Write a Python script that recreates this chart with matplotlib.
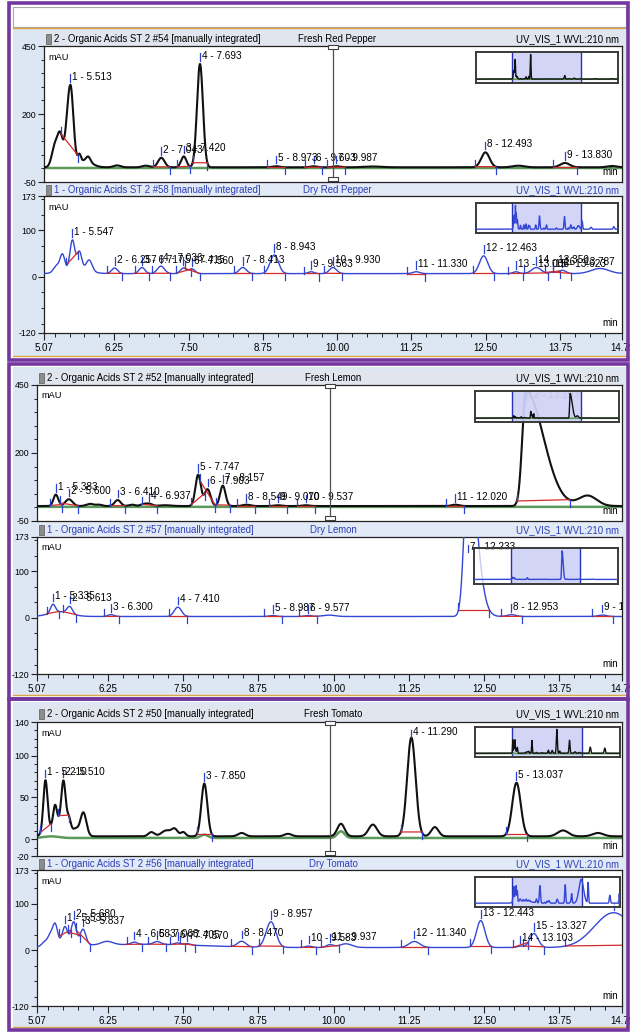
import numpy as np
import matplotlib
matplotlib.use("Agg")
import matplotlib.pyplot as plt
from matplotlib.patches import Rectangle
from matplotlib.ticker import FixedLocator
from matplotlib import font_manager as fm

# ---------------------------------------------------------------------------
# Shared time window (min)
# ---------------------------------------------------------------------------
T_START, T_END = 5.07, 14.79
OVERVIEW_END = 20.0
cursor_rt = 9.93
x_ticks = [5.07, 6.25, 7.50, 8.75, 10.00, 11.25, 12.50, 13.75, 14.79]

# ---------------------------------------------------------------------------
# Red pepper
# ---------------------------------------------------------------------------
pep_fresh_rt = [5.25, 5.34, 5.513, 5.665, 5.75, 5.815, 6.30, 6.78, 7.043, 7.420, 7.693,
                8.973, 9.603, 9.987, 10.60, 12.493, 13.05, 13.830, 14.62, 16.80, 19.20]
pep_fresh_h = [75, 110, 300, 28, 25, 18, 7, 6, 35, 40, 380,
               4, 4, 4, 3, 55, 6, 16, 5, 8, 6]
pep_fresh_w = [0.05, 0.045, 0.062, 0.025, 0.12, 0.035, 0.06, 0.06, 0.055, 0.045, 0.05,
               0.06, 0.06, 0.06, 0.15, 0.07, 0.10, 0.08, 0.08, 0.10, 0.10]
pep_fresh_wr = [0.05, 0.045, 0.05, 0.025, 0.12, 0.035, 0.06, 0.06, 0.055, 0.045, 0.05,
                0.06, 0.06, 0.06, 0.15, 0.07, 0.10, 0.08, 0.08, 0.10, 0.10]
pep_fresh_num = [0, 0, 1, 0, 0, 0, 0, 0, 2, 3, 4,
                 5, 6, 7, 0, 8, 0, 9, 0, 0, 0]
pep_fresh_base = 4
pep_blank_level = 1.5

pep_dry_rt = [5.28, 5.38, 5.547, 5.665, 5.83, 5.60, 6.257, 6.717, 7.036, 7.415, 7.560,
              8.413, 8.943, 9.563, 9.930, 11.330, 12.463, 13.006, 13.350, 13.623, 13.787,
              14.42, 14.95, 16.20, 19.40]
pep_dry_h = [14, 35, 62, 38, 24, 10, 12, 13, 16, 12, 10,
             13, 40, 4, 13, 4, 38, 4, 13, 3, 7,
             11, 25, 6, 8]
pep_dry_w = [0.05, 0.04, 0.04, 0.04, 0.05, 0.20, 0.05, 0.05, 0.06, 0.05, 0.05,
             0.06, 0.07, 0.05, 0.06, 0.06, 0.07, 0.05, 0.08, 0.05, 0.06,
             0.15, 0.06, 0.10, 0.08]
pep_dry_num = [0, 0, 1, 0, 0, 0, 2, 3, 4, 5, 6,
               7, 8, 9, 10, 11, 12, 13, 14, 15, 16,
               0, 0, 0, 0]
pep_dry_base = 7

# ---------------------------------------------------------------------------
# Lemon
# ---------------------------------------------------------------------------
lem_fresh_rt = [5.383, 5.600, 5.95, 6.10, 6.410, 6.65, 6.84, 6.937, 7.20, 7.747, 7.903,
                8.157, 8.549, 9.070, 9.537, 12.020, 13.193, 14.22, 15.60]
lem_fresh_h = [42, 25, 8, 5, 22, 5, 7, 8, 3, 115, 62,
               75, 5, 3, 3, 5, 422, 38, 3]
lem_fresh_w = [0.04, 0.06, 0.06, 0.05, 0.05, 0.05, 0.05, 0.05, 0.10, 0.045, 0.05,
               0.045, 0.06, 0.06, 0.06, 0.06, 0.06, 0.15, 0.10]
lem_fresh_wr = [0.04, 0.06, 0.06, 0.05, 0.05, 0.05, 0.05, 0.05, 0.10, 0.045, 0.05,
                0.045, 0.06, 0.06, 0.06, 0.06, 0.29, 0.15, 0.10]
lem_fresh_num = [1, 2, 0, 0, 3, 0, 0, 4, 0, 5, 6,
                 7, 8, 9, 10, 11, 12, 0, 0]
lem_fresh_base = 5
lem_blank_level = 2

lem_dry_rt = [5.335, 5.45, 5.613, 6.300, 7.410, 8.987, 9.577, 9.92, 12.233, 12.953, 14.463, 16.50]
lem_dry_h = [18, 10, 15, 4, 20, 2, 2, 3, 330, 4, 3, 3]
lem_dry_w = [0.04, 0.18, 0.045, 0.05, 0.06, 0.06, 0.06, 0.10, 0.064, 0.07, 0.07, 0.10]
lem_dry_wr = [0.04, 0.18, 0.045, 0.05, 0.06, 0.06, 0.06, 0.10, 0.142, 0.07, 0.07, 0.10]
lem_dry_num = [1, 0, 2, 3, 4, 5, 6, 0, 7, 8, 9, 0]
lem_dry_base = 3

# ---------------------------------------------------------------------------
# Tomato
# ---------------------------------------------------------------------------
tom_fresh_rt = [5.210, 5.37, 5.45, 5.510, 5.60, 5.72, 5.84, 6.97, 7.22, 7.36, 7.50, 7.850,
                8.47, 9.24, 10.12, 10.65, 11.290, 11.68, 13.037, 13.81, 14.39, 15.90, 17.90]
tom_fresh_h = [62, 22, 18, 50, 12, 5, 28, 5, 7, 8, 5, 63,
               4, 3, 15, 14, 118, 11, 64, 7, 4, 30, 25]
tom_fresh_w = [0.035, 0.03, 0.15, 0.035, 0.03, 0.04, 0.05, 0.05, 0.08, 0.05, 0.04, 0.05,
               0.06, 0.06, 0.06, 0.07, 0.07, 0.06, 0.07, 0.09, 0.09, 0.08, 0.08]
tom_fresh_num = [1, 0, 0, 2, 0, 0, 0, 0, 0, 0, 0, 3,
                 0, 0, 0, 0, 4, 0, 5, 0, 0, 0, 0]
tom_fresh_base = 3.5
tom_blank_rt = [5.30, 7.85, 10.12]
tom_blank_h = [2, 4, 8]
tom_blank_w = [0.12, 0.06, 0.06]
tom_blank_level = 1.5

tom_dry_rt = [5.20, 5.29, 5.37, 5.533, 5.680, 5.837, 5.60, 6.23, 6.683, 6.90, 7.068, 7.405,
              7.570, 8.470, 8.957, 9.583, 9.937, 10.20, 11.340, 12.443, 13.103, 13.327,
              14.650, 15.60, 18.60, 19.90]
tom_dry_h = [10, 20, 42, 30, 40, 30, 14, 8, 5, 7, 6, 4,
             3, 12, 55, 3, 6, 8, 13, 58, 3, 30,
             75, 65, 25, 30]
tom_dry_w = [0.05, 0.04, 0.04, 0.04, 0.04, 0.045, 0.18, 0.10, 0.05, 0.90, 0.06, 0.05,
             0.05, 0.07, 0.08, 0.05, 0.06, 0.10, 0.09, 0.07, 0.05, 0.07,
             0.32, 0.06, 0.08, 0.03]
tom_dry_num = [0, 0, 0, 1, 2, 3, 0, 0, 4, 0, 5, 6,
               7, 8, 9, 10, 11, 0, 12, 13, 14, 15,
               16, 0, 0, 0]
tom_dry_base = 6

# ---------------------------------------------------------------------------
# Styling
# ---------------------------------------------------------------------------
W, H = 630, 1032
PURPLE = "#74379f"
LIGHT = "#dde6f3"
HEAD_FRESH = "#e1e5ee"
HEAD_DRY = "#e2eaf7"
GOLD = "#d9a441"
BLACK = "#111111"
BLUE = "#3447d4"
DRY_TEXT = "#2c3fb8"
GREEN = "#5c9a5c"
RED = "#d42a2a"
TICK = "#2b45d0"
SHADE = "#c3c7f2"
NAVY = "#2633b8"


def find_family(candidates, fallback):
    for name in candidates:
        try:
            fm.findfont(fm.FontProperties(family=name), fallback_to_default=False)
            return name, True
        except ValueError:
            continue
    return fallback, False


FAM, NARROW = find_family(["Liberation Sans Narrow", "Arial Narrow"], "Liberation Sans")
if NARROW:
    FS_HEAD, FS_LABEL, FS_YTICK, FS_XTICK, FS_UNIT = 8.0, 8.2, 6.9, 8.0, 7.4
else:
    FS_HEAD, FS_LABEL, FS_YTICK, FS_XTICK, FS_UNIT = 6.9, 7.2, 6.3, 7.0, 6.6
plt.rcParams["font.family"] = [FAM, "DejaVu Sans"]

fig = plt.figure(figsize=(W / 100, H / 100), dpi=100)
fig.patch.set_facecolor("white")


def fig_rect(x0, y0, x1, y1, **kw):
    r = Rectangle((x0 / W, 1 - y1 / H), (x1 - x0) / W, (y1 - y0) / H,
                  transform=fig.transFigure, **kw)
    fig.patches.append(r)
    return r


def fig_hline(y, x0, x1, color, lw, z=1):
    fig.add_artist(plt.Line2D([x0 / W, x1 / W], [1 - y / H, 1 - y / H],
                              transform=fig.transFigure, color=color, lw=lw, zorder=z))


def fig_text(x, y, s, **kw):
    return fig.text(x / W, 1 - y / H, s, **kw)


def px_axes(box, **kw):
    x0, y0, x1, y1 = box
    return fig.add_axes([x0 / W, 1 - y1 / H, (x1 - x0) / W, (y1 - y0) / H], **kw)


def peaks_signal(t, rt, h, w, wr, base):
    t = np.asarray(t, dtype=float)
    y = np.full(t.shape, float(base))
    for r, a, sl, sr in zip(rt, h, w, wr):
        s = np.where(t < r, sl, sr)
        y = y + a * np.exp(-0.5 * ((t - r) / s) ** 2)
    return y


def style_axes(ax, ylim, yticks, yminor, bottom_axis):
    ax.set_xlim(T_START, T_END)
    ax.set_ylim(*ylim)
    ax.set_facecolor("white")
    for sp in ax.spines.values():
        sp.set_color("#222222")
        sp.set_linewidth(0.9)
    ax.set_yticks(yticks)
    ax.set_yticklabels([f"{v:g}" for v in yticks])
    ax.yaxis.set_minor_locator(FixedLocator(yminor))
    ax.tick_params(axis="y", which="major", length=4, width=0.8, labelsize=FS_YTICK, pad=1.5,
                   colors="#222222", labelcolor="black")
    ax.tick_params(axis="y", which="minor", length=2.5, width=0.7, colors="#222222")
    ax.set_xticks(x_ticks)
    ax.xaxis.set_minor_locator(FixedLocator(
        [v for v in np.arange(5.25, 14.76, 0.25) if min(abs(v - m) for m in x_ticks) > 0.05]))
    if bottom_axis:
        ax.set_xticklabels([f"{v:.2f}" for v in x_ticks])
        ax.tick_params(axis="x", which="major", length=5, width=0.8, labelsize=FS_XTICK, pad=2.5,
                       colors="#222222", labelcolor="black")
        ax.tick_params(axis="x", which="minor", length=3, width=0.7, colors="#222222")
    else:
        ax.tick_params(axis="x", which="both", bottom=False, labelbottom=False)


def draw_chromatogram(ax, box, ylim, rt, h, w, wr, num, base, color, lw, blank=None):
    px_w = box[2] - box[0]
    px_h = box[3] - box[1]
    upp = (ylim[1] - ylim[0]) / px_h
    mpp = (T_END - T_START) / px_w
    t = np.linspace(T_START, T_END, 4000)

    def sig(tt):
        return peaks_signal(tt, rt, h, w, wr, base)

    if blank is not None:
        ax.plot(t, peaks_signal(t, *blank), color=GREEN, lw=1.8, zorder=2)
    ax.plot(t, sig(t), color=color, lw=lw, zorder=3, solid_joinstyle="round")

    for r, a, sl, sr, n in zip(rt, h, w, wr, num):
        if not n:
            continue
        t0, t1 = r - 2.5 * sl, r + 2.5 * sr
        y0, y1 = float(sig(t0)), float(sig(t1))
        ax.plot([t0, t1], [y0, y1], color=RED, lw=0.9, zorder=4)
        ax.plot([t0, t0], [y0, y0 + 7 * upp], color=TICK, lw=0.9, zorder=4)
        ax.plot([t1, t1], [y1, y1 - 7 * upp], color=TICK, lw=0.9, zorder=4)
        lab_y = min(float(sig(r)) + 8 * upp, ylim[1] - 10 * upp)
        ax.plot([r, r], [lab_y - 5 * upp, lab_y + 2.5 * upp], color=TICK, lw=0.9, zorder=5)
        ax.text(r + 2 * mpp, lab_y, f"{n} - {r:.3f}", fontsize=FS_LABEL, va="center", ha="left",
                color="black", zorder=6, clip_on=True)


def draw_overview(box, rt, h, w, wr, base, color, blank=None):
    ax = px_axes(box, zorder=5)
    ax.patch.set_facecolor("white")
    ax.patch.set_alpha(0.72)
    t = np.linspace(0, OVERVIEW_END, 2000)
    y = peaks_signal(t, rt, h, w, wr, base)
    ax.axvspan(T_START, T_END, color=SHADE, alpha=0.75, lw=0, zorder=1)
    for xv in (T_START, T_END):
        ax.axvline(xv, color=NAVY, lw=1.0, zorder=2)
    if blank is not None:
        ax.plot(t, peaks_signal(t, *blank), color=GREEN, lw=1.2, zorder=3)
    ax.plot(t, y, color=color, lw=1.0, zorder=4)
    lo, hi = float(y.min()), float(y.max())
    ax.set_xlim(0, OVERVIEW_END)
    ax.set_ylim(lo - 0.16 * (hi - lo), hi + 0.1 * (hi - lo))
    ax.set_xticks([])
    ax.set_yticks([])
    for sp in ax.spines.values():
        sp.set_color("#3a3a3a")
        sp.set_linewidth(1.4)


def draw_cursor(ax, ylim, px_h):
    upp = (ylim[1] - ylim[0]) / px_h
    ax.plot([cursor_rt, cursor_rt], [ylim[0], ylim[1]], color="#505050", lw=0.9, zorder=7)
    handle = [(-1.5, -0.5), (1.5, -0.5), (1.5, 0.5), (-1.5, 0.5), (-1.5, -0.5)]
    for yv in (ylim[1] - 1 * upp, ylim[0] + 3 * upp):
        ax.plot([cursor_rt], [yv], marker=handle, ms=7, mfc="white", mec="#404040",
                mew=0.8, zorder=8, clip_on=False)


# ---------------------------------------------------------------------------
# Panel layout (pixels) and content
# ---------------------------------------------------------------------------
panels = [
    dict(purple=(9, 3, 628, 360), light=(13, 28, 626, 356),
         fresh_head=(44, 31, 622, 46), fresh=(44, 46, 622, 182),
         dry_head=(44, 183, 622, 196), dry=(44, 196, 622, 333),
         fresh_inset=(476, 52, 618, 83), dry_inset=(476, 203, 618, 233),
         fresh_run="#54", dry_run="#58", fresh_name="Fresh Red Pepper", dry_name="Dry Red Pepper",
         fresh_ylim=(-50, 450), fresh_ticks=[-50, 200, 450],
         fresh_minor=list(range(0, 450, 50)),
         fresh_data=(pep_fresh_rt, pep_fresh_h, pep_fresh_w, pep_fresh_wr, pep_fresh_num, pep_fresh_base),
         blank=([], [], [], [], pep_blank_level),
         dry_data=(pep_dry_rt, pep_dry_h, pep_dry_w, pep_dry_w, pep_dry_num, pep_dry_base)),
    dict(purple=(9, 364, 628, 699), light=(13, 367, 626, 695),
         fresh_head=(37, 370, 622, 385), fresh=(37, 385, 622, 521),
         dry_head=(37, 522, 622, 537), dry=(37, 537, 622, 674),
         fresh_inset=(475, 391, 619, 422), dry_inset=(474, 548, 618, 584),
         fresh_run="#52", dry_run="#57", fresh_name="Fresh Lemon", dry_name="Dry Lemon",
         fresh_ylim=(-50, 450), fresh_ticks=[-50, 200, 450],
         fresh_minor=list(range(0, 450, 50)),
         fresh_data=(lem_fresh_rt, lem_fresh_h, lem_fresh_w, lem_fresh_wr, lem_fresh_num, lem_fresh_base),
         blank=([], [], [], [], lem_blank_level),
         dry_data=(lem_dry_rt, lem_dry_h, lem_dry_w, lem_dry_wr, lem_dry_num, lem_dry_base)),
    dict(purple=(9, 699, 628, 1030), light=(13, 702, 626, 1027),
         fresh_head=(37, 705, 622, 722), fresh=(37, 722, 622, 856),
         dry_head=(37, 857, 622, 870), dry=(37, 870, 622, 1006),
         fresh_inset=(475, 727, 620, 757), dry_inset=(475, 877, 620, 907),
         fresh_run="#50", dry_run="#56", fresh_name="Fresh Tomato", dry_name="Dry Tomato",
         fresh_ylim=(-20, 140), fresh_ticks=[-20, 0, 50, 100, 140],
         fresh_minor=list(range(-10, 140, 10)),
         fresh_data=(tom_fresh_rt, tom_fresh_h, tom_fresh_w, tom_fresh_w, tom_fresh_num, tom_fresh_base),
         blank=(tom_blank_rt, tom_blank_h, tom_blank_w, tom_blank_w, tom_blank_level),
         dry_data=(tom_dry_rt, tom_dry_h, tom_dry_w, tom_dry_w, tom_dry_num, tom_dry_base)),
]

DRY_YLIM = (-120, 173)
DRY_TICKS = [-120, 0, 100, 173]
DRY_MINOR = [v for v in np.arange(-100, 173, 100 / 3) if min(abs(v - m) for m in DRY_TICKS) > 5]

# window frame above the first panel
fig_rect(13, 7, 626, 27, facecolor="white", edgecolor="#a8a8a8", lw=0.8, zorder=-9)
fig_hline(28, 13, 626, GOLD, 1.0, z=-5)

for p in panels:
    # backgrounds
    fig_rect(*p["light"], facecolor=LIGHT, edgecolor="none", zorder=-10)
    fig_hline(p["light"][3], 13, 626, GOLD, 1.0, z=-5)
    fig_rect(*p["fresh_head"], facecolor=HEAD_FRESH, edgecolor="none", zorder=-8)
    fig_rect(*p["dry_head"], facecolor=HEAD_DRY, edgecolor="none", zorder=-8)

    # header strips
    for head, run, name, tcol, chan in (
            (p["fresh_head"], p["fresh_run"], p["fresh_name"], "black", "2"),
            (p["dry_head"], p["dry_run"], p["dry_name"], DRY_TEXT, "1")):
        x0, y0, x1, y1 = head
        yc = (y0 + y1) / 2 + 0.5
        fig_rect(x0 + 2, yc - 5, x0 + 7, yc + 5, facecolor="#8c8c8c", edgecolor="#5a5a5a",
                 lw=0.5, zorder=2)
        fig_text(x0 + 10, yc, f"{chan} - Organic Acids ST 2 {run} [manually integrated]",
                 fontsize=FS_HEAD, color=tcol, va="center", ha="left")
        fig_text((x0 + x1) / 2 + 4, yc, name, fontsize=FS_HEAD, color=tcol, va="center", ha="center")
        fig_text(x1 - 3, yc, "UV_VIS_1 WVL:210 nm", fontsize=FS_HEAD, color=tcol,
                 va="center", ha="right")

    # fresh trace
    ax_f = px_axes(p["fresh"])
    style_axes(ax_f, p["fresh_ylim"], p["fresh_ticks"], p["fresh_minor"], bottom_axis=False)
    rt, h, w, wr, num, base = p["fresh_data"]
    draw_chromatogram(ax_f, p["fresh"], p["fresh_ylim"], rt, h, w, wr, num, base,
                      BLACK, 1.5, blank=p["blank"])
    draw_cursor(ax_f, p["fresh_ylim"], p["fresh"][3] - p["fresh"][1])
    draw_overview(p["fresh_inset"], rt, h, w, wr, base, BLACK, blank=p["blank"])

    # dry trace
    ax_d = px_axes(p["dry"])
    style_axes(ax_d, DRY_YLIM, DRY_TICKS, DRY_MINOR, bottom_axis=True)
    rt, h, w, wr, num, base = p["dry_data"]
    draw_chromatogram(ax_d, p["dry"], DRY_YLIM, rt, h, w, wr, num, base, BLUE, 1.0)
    draw_overview(p["dry_inset"], rt, h, w, wr, base, BLUE)

    # axis captions
    for box in (p["fresh"], p["dry"]):
        fig_text(box[0] + 4, box[1] + 11, "mAU", fontsize=FS_UNIT, color="black",
                 va="center", ha="left")
        fig_text(box[2] - 4, box[3] - 10, "min", fontsize=FS_UNIT + 0.4, color="black",
                 va="center", ha="right")

    # purple panel border
    fig_rect(*p["purple"], facecolor="none", edgecolor=PURPLE, lw=2.6, zorder=20)

fig.savefig("out.png", dpi=100, facecolor="white")
